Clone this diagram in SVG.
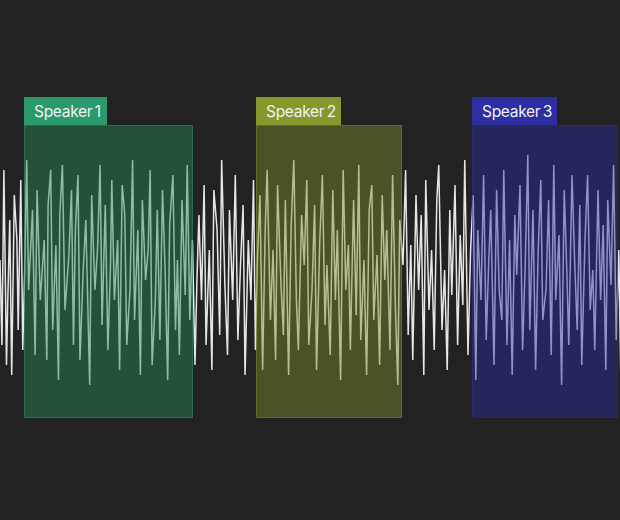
<svg xmlns="http://www.w3.org/2000/svg" width="620" height="520" viewBox="0 0 620 520">
  <style>
    .wave { fill: none; stroke: #e6e6e6; stroke-width: 1.5; stroke-linejoin: miter; stroke-miterlimit: 2; }
    .box { fill-opacity: 0.45; stroke-width: 1; stroke-opacity: 0.55; }
    .tab-text { font-family: "Inter", "Noto Sans", "Liberation Sans", sans-serif; font-size: 15.5px; letter-spacing: -0.3px; word-spacing: -1.5px; fill: #f2f2f2; }
  </style>
  <rect x="0" y="0" width="620" height="520" fill="#222222"/>
  <g id="waveform">
    <polyline class="wave" transform="scale(1.3,1)" vector-effect="non-scaling-stroke" points="0,260 1.5,345 3,170 5,365 6,300 7.5,220 9,375 11,195 13,240 14,330 16,180 17.5,350 19,270 20.5,160 22,290 25,210 27,355 28.5,190 31,300 34,240 36,360 37,205 39,170 40.5,330 43,245 45,380 46,215 48,165 50,310 53,255 55,190 56.5,345 58,230 60,175 61.5,360 64,270 66,220 68,330 69,385 70.5,195 73,290 75,250 77,165 78.5,325 81,205 83,350 85,265 86,180 88,300 90.5,240 92,370 94,185 96,215 97.5,345 100,290 102,160 103.5,320 106,230 108,375 109.5,200 112,280 114,250 115.5,170 117,365 119.5,300 121,210 123,340 125,190 127,270 129,380 130.5,225 133,175 135,330 136.5,260 138,355 140,200 142.5,295 144,165 146,320 148,240 150,365 151.5,280 153,215 155,300 157,185 158.5,345 161,250 163,370 164.5,190 167,230 169,335 170.5,160 173,285 175,355 176.5,210 179,300 181,175 183,340 185,265 187,205 188.5,375 191,240 193,300 195,180 196.5,350 198,260 200,195 202,370 204,230 205.5,170 208,320 210,250 212,360 213.5,185 216,280 218,335 219.5,200 222,375 224,225 226,160 228,300 229.5,350 232,215 234,265 236,180 237.5,345 240,290 242,205 243.5,370 246,240 248,175 250,325 251.5,265 254,355 256,190 258,300 259.5,230 262,380 264,170 266,290 268,245 269.5,350 272,200 274,315 276,165 277.5,340 280,260 282,375 284,210 286,185 287.5,320 290,255 292,365 294,195 296,280 297.5,230 300,350 302,175 304,300 306,385 307.5,220 310,265 312,170 314,335 316,245 317.5,360 320,195 322,290 324,215 326,375 327.5,180 330,310 332,250 334,350 336,200 337.5,165 340,330 342,270 344,370 346,210 347.5,295 350,185 352,345 354,235 356,305 357.5,160 360,355 362,250 364,195 366,380 367.5,230 370,300 372,175 374,340 376,260 377.5,210 380,365 382,190 384,290 386,320 387.5,170 390,345 392,240 394,375 396,215 397.5,275 400,185 402,350 404,265 406,155 407.5,330 410,210 412,370 414,250 416,180 417.5,320 420,290 422,200 424,355 426,165 427.5,300 430,235 432,385 434,190 436,270 437.5,345 440,175 442,260 444,330 446,205 447.5,365 450,240 452,175 454,310 456,270 457.5,350 460,190 462,300 464,225 466,370 467.5,200 470,285 472,165 474,340 476,250 477.5,375 480,215"/>
  </g>
  <g id="speaker1">
    <rect class="box" x="24.5" y="125.5" width="168" height="292" fill="#278e57" stroke="#2a9a6c"/>
    <rect x="24" y="97" width="83" height="28" fill="#2a9a6c"/>
    <text class="tab-text" x="34" y="117">Speaker 1</text>
  </g>
  <g id="speaker2">
    <rect class="box" x="256.5" y="125.5" width="145" height="292" fill="#7d8d30" stroke="#86982c"/>
    <rect x="256" y="97" width="85" height="28" fill="#86982c"/>
    <text class="tab-text" x="266" y="117">Speaker 2</text>
  </g>
  <g id="speaker3">
    <rect class="box" x="472.5" y="125.5" width="145" height="292" fill="#2b2ea0" stroke="#2c2ea2"/>
    <rect x="472" y="97" width="85" height="28" fill="#2c2ea2"/>
    <text class="tab-text" x="482" y="117">Speaker 3</text>
  </g>
</svg>
